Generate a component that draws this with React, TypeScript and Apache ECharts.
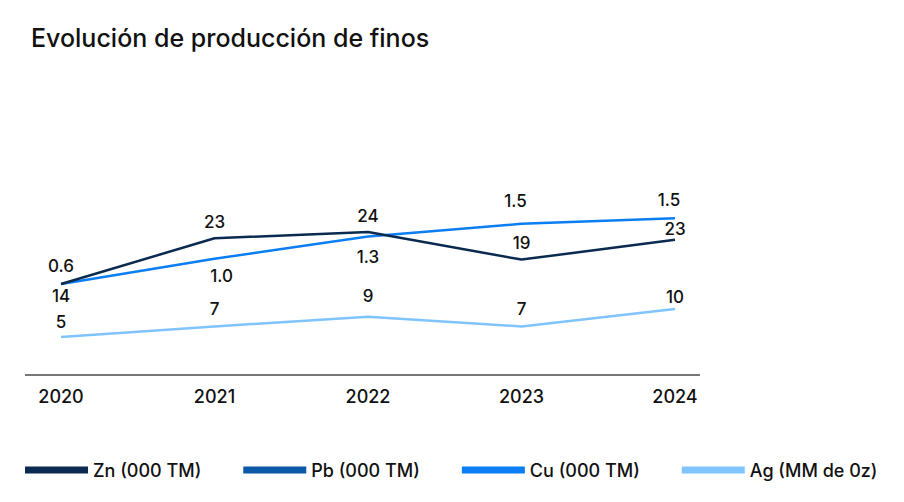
import React, { useEffect, useRef } from "react";
import * as echarts from "echarts";

const years = ["2020", "2021", "2022", "2023", "2024"];
const znValues = [14.0, 22.8, 24.0, 18.7, 22.5];
const pbValues: (number | null)[] = [null, null, null, null, null];
const cuValues = [0.6, 0.96, 1.28, 1.46, 1.54];
const agValues = [5.0, 7.0, 8.8, 7.0, 10.3];

const seriesNames = ["Zn (000 TM)", "Pb (000 TM)", "Cu (000 TM)", "Ag (MM de 0z)"];
const colors = ["#0a2a4f", "#0b58a6", "#0a7ef2", "#7fc4fc"];

// label placement (style only)
const znLabelPos = ["bottom", "top", "top", "top", "top"];
const znLabelDist = [3, 8, 8, 8, 2];
const cuLabelPos = ["top", "bottom", "bottom", "top", "top"];
const cuLabelDist = [10, 9, 12, 14, 10];
const cuLabelDx = [0, 7, 0, -6, -6];
const agLabelPos = ["top", "top", "top", "top", "top"];
const agLabelDist = [6, 9, 12, 9, 3];

const FONT = "Inter, 'Noto Sans', sans-serif";

function withLabels(values: (number | null)[], pos: string[], dist: number[], dx?: number[]) {
  return values.map((v, i) => ({
    value: v,
    label: { show: true, position: pos[i], distance: dist[i], offset: [dx ? dx[i] : 0, 0] },
  }));
}

export default function App() {
  const ref = useRef<HTMLDivElement>(null);
  useEffect(() => {
    if (!ref.current) return;
    const chart = echarts.init(ref.current, undefined, { renderer: "svg" });
    const labelBase = (digits: number) => ({
      show: true,
      fontFamily: FONT,
      fontSize: 17,
      fontWeight: 500,
      color: "#111",
      formatter: (p: any) => (p.value == null ? "" : Number(p.value).toFixed(digits)),
    });
    const symbolCommon = {
      symbol: "circle",
      symbolSize: 0.01,
      showSymbol: true,
    };
    chart.setOption({
      animation: false,
      title: {
        text: "Evolución de producción de finos",
        left: 31,
        top: 25,
        padding: 0,
        textStyle: { fontFamily: FONT, fontSize: 25, fontWeight: 500, color: "#111" },
      },
      legend: {
        data: seriesNames,
        left: 25,
        top: 461,
        padding: 0,
        icon: "rect",
        itemWidth: 63,
        itemHeight: 7,
        itemGap: 42,
        textStyle: { fontFamily: FONT, fontSize: 18, fontWeight: 500, color: "#111" },
      },
      color: colors,
      grid: { left: 61, right: 229, top: 100, bottom: 127 },
      xAxis: {
        type: "category",
        data: years,
        boundaryGap: false,
        axisLine: { show: false },
        axisTick: { show: false },
        splitLine: { show: false },
        axisLabel: {
          margin: 12,
          fontFamily: FONT,
          fontSize: 18,
          fontWeight: 500,
          color: "#111",
        },
      },
      yAxis: [
        { type: "value", min: -3.5, max: 49.4, show: false },
        { type: "value", min: -0.7, max: 3.229, show: false },
        { type: "value", min: -2.17, max: 49.7, show: false },
      ],
      graphic: [
        {
          type: "line",
          shape: { x1: 25, y1: 375, x2: 700, y2: 375 },
          style: { stroke: "#4a4a4a", lineWidth: 1.5 },
        },
      ],
      series: [
        {
          name: seriesNames[0],
          type: "line",
          yAxisIndex: 0,
          data: withLabels(znValues, znLabelPos, znLabelDist),
          ...symbolCommon,
          itemStyle: { color: colors[0] },
          lineStyle: { width: 2.5, color: colors[0] },
          label: labelBase(0),
          z: 3,
        },
        {
          name: seriesNames[1],
          type: "line",
          yAxisIndex: 0,
          data: pbValues,
          symbol: "none",
          itemStyle: { color: colors[1] },
          lineStyle: { width: 2.5, color: colors[1] },
        },
        {
          name: seriesNames[2],
          type: "line",
          yAxisIndex: 1,
          data: withLabels(cuValues, cuLabelPos, cuLabelDist, cuLabelDx),
          ...symbolCommon,
          itemStyle: { color: colors[2] },
          lineStyle: { width: 2.5, color: colors[2] },
          label: labelBase(1),
          z: 2,
        },
        {
          name: seriesNames[3],
          type: "line",
          yAxisIndex: 2,
          data: withLabels(agValues, agLabelPos, agLabelDist),
          ...symbolCommon,
          itemStyle: { color: colors[3] },
          lineStyle: { width: 2.5, color: colors[3] },
          label: labelBase(0),
          z: 1,
        },
      ],
    });
    return () => chart.dispose();
  }, []);
  return <div ref={ref} style={{ width: 904, height: 502, position: "absolute", left: 0, top: 0 }} />;
}
